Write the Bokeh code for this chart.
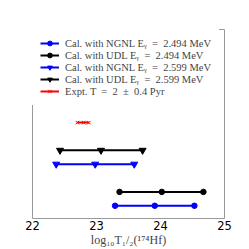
from bokeh.plotting import figure
from bokeh.embed import file_html
from bokeh.resources import INLINE
from bokeh.models import Range1d, FixedTicker

# data
ngnl_2494 = [23.29, 23.91, 24.53]
udl_2494 = [23.36, 24.02, 24.67]
ngnl_2599 = [22.37, 22.98, 23.59]
udl_2599 = [22.43, 23.07, 23.72]
expt = [22.70, 22.80, 22.88]
rows = [1.0, 1.5, 2.5, 3.0, 4.0]
labels = [
    "Cal. with NGNL E\u1d67  =  2.494 MeV",
    "Cal. with UDL E\u1d67  =  2.494 MeV",
    "Cal. with NGNL E\u1d67  =  2.599 MeV",
    "Cal. with UDL E\u1d67  =  2.599 MeV",
    "Expt. T  =  2  \u00b1  0.4 Pyr",
]
xticks = [22, 23, 24, 25]

p = figure(width=241, height=249, output_backend="svg", toolbar_location=None,
           x_range=Range1d(22, 25), y_range=Range1d(0.54, 7.36),
           min_border_left=32, min_border_right=17, min_border_top=29, min_border_bottom=28)

series = [
    (ngnl_2494, rows[0], "blue", "circle", 5.5),
    (udl_2494, rows[1], "black", "circle", 5.5),
    (ngnl_2599, rows[2], "blue", "inverted_triangle", 7),
    (udl_2599, rows[3], "black", "inverted_triangle", 7),
]
for i, (xs, r, col, mk, sz) in enumerate(series):
    ys = [r] * len(xs)
    p.line(xs, ys, line_color=col, line_width=2, legend_label=labels[i])
    p.scatter(xs, ys, marker=mk, size=sz, fill_color=col, line_color=col, legend_label=labels[i])

ye = [rows[4]] * len(expt)
p.line(expt, ye, line_color="red", line_width=2, legend_label=labels[4])
p.scatter(expt, ye, marker="x", size=5, line_color="red", line_width=1, legend_label=labels[4])

p.yaxis.visible = False
p.xgrid.visible = False
p.ygrid.visible = False
p.outline_line_color = "#999999"
p.outline_line_width = 1

xa = p.xaxis[0]
xa.ticker = FixedTicker(ticks=xticks)
xa.axis_line_color = None
xa.major_tick_line_color = None
xa.minor_tick_line_color = None
xa.major_tick_out = 0
xa.major_label_standoff = 2
xa.major_label_text_font = "DejaVu Sans"
xa.major_label_text_font_size = "11.5px"
xa.major_label_text_color = "black"
xa.axis_label = "log\u2081\u2080T\u2081/\u2082(\u00b9\u2077\u2074Hf)"
xa.axis_label_text_font = "Liberation Serif"
xa.axis_label_text_font_style = "normal"
xa.axis_label_text_font_size = "12px"
xa.axis_label_standoff = 0

lg = p.legend[0]
lg.location = "top_left"
lg.margin = 0
lg.padding = 8
lg.spacing = 0
lg.label_height = 12
lg.glyph_height = 12
lg.glyph_width = 19
lg.label_standoff = 6
lg.label_text_font = "Liberation Serif"
lg.label_text_font_size = "10.5px"
lg.label_text_baseline = "middle"
lg.border_line_alpha = 0
lg.background_fill_alpha = 1

open("out.html", "w").write(file_html(p, INLINE))
